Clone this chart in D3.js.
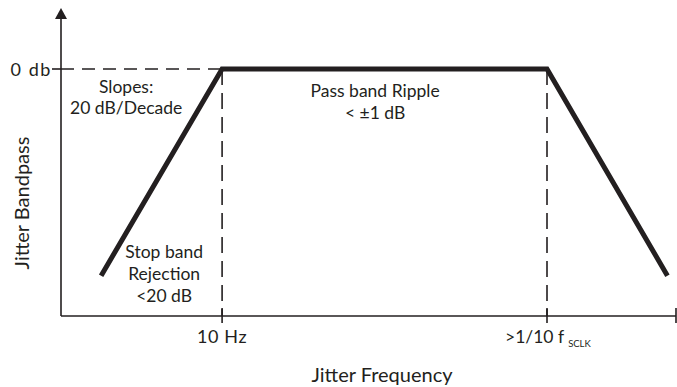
<!DOCTYPE html>
<html><head><meta charset="utf-8">
<script src="https://cdn.jsdelivr.net/npm/d3@7"></script>
<style>
html,body{margin:0;padding:0;background:#fff;}
text{font-family:Lato,"Open Sans",sans-serif;fill:#231f20;}
</style></head>
<body><svg id="c" width="677" height="387"></svg>
<script>
// Data (frequency in Hz, gain in dB)
const freqs = [1, 10, 4850, 48000];
const gains = [-20, 0, 0, -20];
const xTickValues = [10, 4850];
const xTickLabels = ["10 Hz", ">1/10 f"];
const yTickValues = [0];
const yTickLabels = ["0 db"];
const annotations = [
  {f: 1.61, db: -1.84, gap: 20.5, lines: ["Slopes:", "20 dB/Decade"]},
  {f: 184, db: -2.23, gap: 22, lines: ["Pass band Ripple", "< \u00b11 dB"]},
  {f: 3.32, db: -17.8, gap: 22, lines: ["Stop band", "Rejection", "<20 dB"]}
];

const svg = d3.select("#c");
const ink = "#231f20";
const x = d3.scaleLog().domain([0.466, 56500]).range([61, 676]);
const y = d3.scaleLinear().domain([-23.9, 0]).range([316, 69]);
const yTop = 8;

// dashed guides
svg.append("line").attr("x1", x.range()[0]).attr("x2", x(xTickValues[0]))
  .attr("y1", y(0)).attr("y2", y(0))
  .attr("stroke", ink).attr("stroke-width", 1.6).attr("stroke-dasharray", "13,8");
xTickValues.forEach(v => {
  svg.append("line").attr("x1", x(v)).attr("x2", x(v))
    .attr("y1", y(0)).attr("y2", y.range()[0])
    .attr("stroke", ink).attr("stroke-width", 1.6).attr("stroke-dasharray", "16,8");
});

// axes
svg.append("line").attr("x1", x.range()[0]).attr("x2", x.range()[0])
  .attr("y1", y.range()[0]).attr("y2", yTop + 9)
  .attr("stroke", ink).attr("stroke-width", 1.6);
svg.append("path")
  .attr("d", `M${x.range()[0]},${yTop} l-6,11 l12,0 z`).attr("fill", ink);
svg.append("line").attr("x1", x.range()[0]).attr("x2", x.range()[1])
  .attr("y1", y.range()[0]).attr("y2", y.range()[0])
  .attr("stroke", ink).attr("stroke-width", 1.6);
// x ticks
xTickValues.concat([x.domain()[1]]).forEach(v => {
  svg.append("line").attr("x1", x(v)).attr("x2", x(v))
    .attr("y1", y.range()[0] - 8).attr("y2", y.range()[0] + 7)
    .attr("stroke", ink).attr("stroke-width", 1.6);
});
// y tick
yTickValues.forEach((v, i) => {
  svg.append("line").attr("x1", x.range()[0] - 9).attr("x2", x.range()[0])
    .attr("y1", y(v)).attr("y2", y(v)).attr("stroke", ink).attr("stroke-width", 1.6);
  svg.append("text").attr("x", x.range()[0] - 9).attr("y", y(v) + 7)
    .attr("text-anchor", "end").attr("font-size", 18).attr("letter-spacing", 1.6)
    .text(yTickLabels[i]);
});

// x tick labels
svg.append("text").attr("x", x(xTickValues[0])).attr("y", 343)
  .attr("text-anchor", "middle").attr("font-size", 18).attr("letter-spacing", 0.6)
  .text(xTickLabels[0]);
const t2 = svg.append("text").attr("x", x(xTickValues[1]) - 42).attr("y", 343)
  .attr("font-size", 17.5);
t2.append("tspan").text(xTickLabels[1]);
t2.append("tspan").attr("font-size", 9.5).attr("dx", 4).attr("dy", 4).text("SCLK");

// axis titles
svg.append("text").attr("x", 382).attr("y", 382).attr("text-anchor", "middle")
  .attr("font-size", 20).text("Jitter Frequency");
svg.append("text").attr("transform", "translate(29,203) rotate(-90)")
  .attr("text-anchor", "middle").attr("font-size", 20).text("Jitter Bandpass");

// response line
const line = d3.line().x((d, i) => x(freqs[i])).y(d => y(d));
svg.append("path").datum(gains).attr("d", line)
  .attr("fill", "none").attr("stroke", ink).attr("stroke-width", 5)
  .attr("stroke-linejoin", "miter");

// annotations
annotations.forEach(a => {
  const t = svg.append("text").attr("text-anchor", "middle").attr("font-size", 17.5);
  a.lines.forEach((l, i) => {
    t.append("tspan").attr("x", x(a.f)).attr("y", y(a.db) + 5 + i * a.gap).text(l);
  });
});
</script></body></html>
